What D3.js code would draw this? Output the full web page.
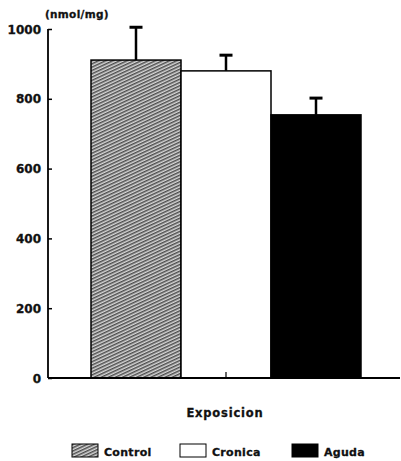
<!DOCTYPE html>
<html>
<head>
<meta charset="utf-8">
<script src="https://cdn.jsdelivr.net/npm/d3@7"></script>
<style>
  body { margin: 0; background: #fff; }
  text { font-family: "DejaVu Sans", sans-serif; font-weight: bold; fill: #111; stroke: #111; stroke-width: 0.3; }
</style>
</head>
<body>
<div id="chart"></div>
<script>
// data
var categories = ["Control", "Cronica", "Aguda"];
var values = [911, 880, 754];
var errors = [94, 45, 48];
var yTicks = [0, 200, 400, 600, 800, 1000];

var width = 401, height = 461;
var svg = d3.select("#chart").append("svg")
  .attr("width", width).attr("height", height);

var defs = svg.append("defs");
var pat = defs.append("pattern")
  .attr("id", "hatch")
  .attr("patternUnits", "userSpaceOnUse")
  .attr("width", 3).attr("height", 3)
  .attr("patternTransform", "rotate(-25)");
pat.append("rect").attr("width", 3).attr("height", 3).attr("fill", "#d8d8d8");
pat.append("line").attr("x1", 0).attr("y1", 0.8).attr("x2", 3).attr("y2", 0.8)
  .attr("stroke", "#2a2a2a").attr("stroke-width", 1.2);

var fills = { "Control": "url(#hatch)", "Cronica": "#fff", "Aguda": "#000" };

var x0 = 48, x1 = 400;
var y = d3.scaleLinear().domain([0, 1000]).range([378, 29]);
var x = d3.scaleBand().domain(categories).range([91, 361]).padding(0);

// bars
svg.selectAll("rect.bar").data(categories).enter().append("rect")
  .attr("class", "bar")
  .attr("x", function(d) { return x(d); })
  .attr("width", x.bandwidth())
  .attr("y", function(d, i) { return y(values[i]); })
  .attr("height", function(d, i) { return y(0) - y(values[i]); })
  .attr("fill", function(d) { return fills[d]; })
  .attr("stroke", "#000").attr("stroke-width", 1.5);

// error bars (upper only)
var eb = svg.selectAll("g.err").data(categories).enter().append("g");
eb.append("line")
  .attr("x1", function(d) { return x(d) + x.bandwidth() / 2; })
  .attr("x2", function(d) { return x(d) + x.bandwidth() / 2; })
  .attr("y1", function(d, i) { return y(values[i]); })
  .attr("y2", function(d, i) { return y(values[i] + errors[i]); })
  .attr("stroke", "#000").attr("stroke-width", 2.5);
eb.append("line")
  .attr("x1", function(d) { return x(d) + x.bandwidth() / 2 - 6.5; })
  .attr("x2", function(d) { return x(d) + x.bandwidth() / 2 + 6.5; })
  .attr("y1", function(d, i) { return y(values[i] + errors[i]); })
  .attr("y2", function(d, i) { return y(values[i] + errors[i]); })
  .attr("stroke", "#000").attr("stroke-width", 3);

// y axis
var yAxis = d3.axisRight(y).tickValues(yTicks).tickSize(4).tickFormat("");
var ga = svg.append("g").attr("transform", "translate(" + x0 + ",0)").call(yAxis);
ga.select(".domain").attr("d", "M0," + y(1000) + "V" + y(0)).attr("stroke-width", 1.8);
ga.selectAll(".tick line").attr("stroke-width", 1.5);
svg.selectAll("text.ylab").data(yTicks).enter().append("text")
  .attr("class", "ylab")
  .attr("x", 41).attr("y", function(d) { return y(d) + 4.5; })
  .attr("text-anchor", "end").attr("font-size", 12)
  .text(function(d) { return d; });

// x axis
svg.append("line").attr("x1", x0).attr("x2", x1)
  .attr("y1", y(0)).attr("y2", y(0))
  .attr("stroke", "#000").attr("stroke-width", 1.8);
svg.append("line")
  .attr("x1", x("Cronica") + x.bandwidth() / 2).attr("x2", x("Cronica") + x.bandwidth() / 2)
  .attr("y1", y(0)).attr("y2", y(0) - 6)
  .attr("stroke", "#000").attr("stroke-width", 1.2);

// labels
svg.append("text").attr("x", 45).attr("y", 18).attr("font-size", 10.5)
  .attr("letter-spacing", 0.3)
  .text("(nmol/mg)");
svg.append("text").attr("x", 225).attr("y", 417).attr("text-anchor", "middle")
  .attr("font-size", 11.5).attr("letter-spacing", 0.8)
  .text("Exposicion");

// legend
var legX = [72, 180, 292];
var lg = svg.selectAll("g.leg").data(categories).enter().append("g")
  .attr("transform", function(d, i) { return "translate(" + legX[i] + ",444)"; });
lg.append("rect").attr("width", 26).attr("height", 13)
  .attr("fill", function(d) { return fills[d]; })
  .attr("stroke", "#000").attr("stroke-width", 1);
lg.append("text").attr("x", 32).attr("y", 12).attr("font-size", 11)
  .attr("letter-spacing", 0.3)
  .text(function(d) { return d; });
</script>
</body>
</html>
